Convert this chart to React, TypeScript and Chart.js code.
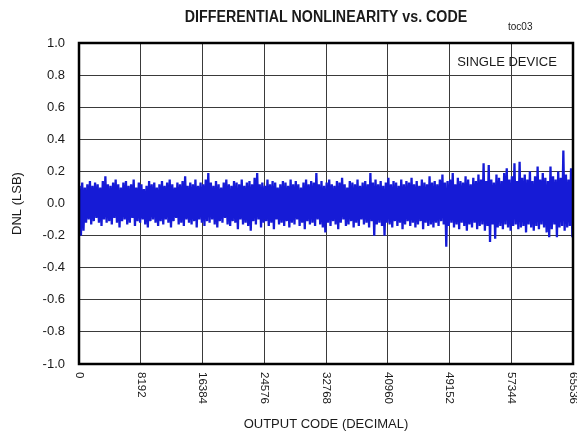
import React, { useEffect, useRef } from 'react';
import { Chart, registerables } from 'chart.js';

Chart.register(...registerables);

const TITLE = 'DIFFERENTIAL NONLINEARITY vs. CODE';
const FIG_ID = 'toc03';
const NOTE = 'SINGLE DEVICE';
const X_TITLE = 'OUTPUT CODE (DECIMAL)';
const Y_TITLE = 'DNL (LSB)';

const CODE_MAX = 65536;
const xTicks = [0, 8192, 16384, 24576, 32768, 40960, 49152, 57344, 65536];
const yTicks = [1.0, 0.8, 0.6, 0.4, 0.2, 0.0, -0.2, -0.4, -0.6, -0.8, -1.0];

// upper excursions of the DNL trace, read across the code range (left to right)
const upperPeaks = [
  0.11, 0.13, 0.10, 0.12, 0.14, 0.11, 0.13, 0.12, 0.10, 0.14, 0.17, 0.12, 0.11, 0.13, 0.15, 0.12,
  0.10, 0.13, 0.14, 0.11, 0.12, 0.15, 0.10, 0.13, 0.12, 0.09, 0.11, 0.14, 0.12, 0.13, 0.10, 0.12,
  0.14, 0.11, 0.13, 0.15, 0.12, 0.10, 0.13, 0.12, 0.14, 0.17, 0.11, 0.13, 0.12, 0.15, 0.11, 0.13,
  0.12, 0.15, 0.19, 0.13, 0.11, 0.14, 0.12, 0.10, 0.13, 0.15, 0.12, 0.11, 0.14, 0.13, 0.12, 0.15,
  0.11, 0.13, 0.14, 0.12, 0.16, 0.19, 0.12, 0.13, 0.11, 0.15, 0.12, 0.14, 0.13, 0.10, 0.12, 0.14,
  0.13, 0.11, 0.15, 0.12, 0.14, 0.12, 0.10, 0.13, 0.15, 0.12, 0.14, 0.13, 0.19, 0.12, 0.14, 0.11,
  0.13, 0.15, 0.12, 0.11, 0.14, 0.13, 0.16, 0.12, 0.10, 0.14, 0.13, 0.12, 0.15, 0.11, 0.13, 0.14,
  0.12, 0.19, 0.13, 0.15, 0.12, 0.14, 0.11, 0.13, 0.16, 0.12, 0.14, 0.13, 0.11, 0.15, 0.12, 0.14,
  0.13, 0.16, 0.12, 0.14, 0.11, 0.15, 0.13, 0.12, 0.17, 0.13, 0.14, 0.12, 0.15, 0.18, 0.13, 0.14,
  0.15, 0.19, 0.12, 0.16, 0.14, 0.13, 0.17, 0.15, 0.12, 0.16, 0.14, 0.18, 0.15, 0.25, 0.14, 0.24,
  0.15, 0.13, 0.18, 0.16, 0.14, 0.19, 0.22, 0.15, 0.17, 0.25, 0.14, 0.26, 0.16, 0.18, 0.15, 0.20,
  0.14, 0.17, 0.23, 0.15, 0.19, 0.16, 0.14, 0.23, 0.17, 0.15, 0.20, 0.16, 0.33, 0.18, 0.15, 0.22,
];

// lower excursions of the DNL trace, read across the code range (left to right)
const lowerPeaks = [
  -0.20, -0.17, -0.12, -0.10, -0.13, -0.11, -0.09, -0.12, -0.14, -0.10, -0.12, -0.11, -0.13, -0.09, -0.12, -0.15,
  -0.11, -0.10, -0.13, -0.12, -0.09, -0.14, -0.11, -0.12, -0.10, -0.13, -0.15, -0.11, -0.10, -0.12, -0.14, -0.11,
  -0.13, -0.10, -0.12, -0.15, -0.11, -0.09, -0.13, -0.12, -0.14, -0.10, -0.12, -0.13, -0.11, -0.15, -0.10, -0.12,
  -0.14, -0.11, -0.12, -0.10, -0.13, -0.15, -0.11, -0.12, -0.09, -0.13, -0.14, -0.11, -0.12, -0.16, -0.10, -0.13,
  -0.12, -0.14, -0.17, -0.11, -0.13, -0.10, -0.15, -0.12, -0.11, -0.14, -0.12, -0.16, -0.10, -0.13, -0.12, -0.14,
  -0.11, -0.15, -0.12, -0.13, -0.10, -0.14, -0.12, -0.16, -0.11, -0.13, -0.12, -0.14, -0.10, -0.13, -0.15, -0.18,
  -0.12, -0.14, -0.11, -0.13, -0.16, -0.12, -0.10, -0.14, -0.13, -0.11, -0.15, -0.12, -0.14, -0.10, -0.13, -0.12,
  -0.15, -0.11, -0.20, -0.13, -0.12, -0.14, -0.20, -0.12, -0.13, -0.15, -0.11, -0.14, -0.12, -0.16, -0.13, -0.11,
  -0.14, -0.12, -0.15, -0.13, -0.11, -0.16, -0.12, -0.14, -0.13, -0.15, -0.12, -0.14, -0.11, -0.13, -0.27, -0.14,
  -0.12, -0.15, -0.13, -0.16, -0.12, -0.14, -0.17, -0.13, -0.15, -0.12, -0.16, -0.14, -0.13, -0.17, -0.14, -0.24,
  -0.13, -0.22, -0.15, -0.14, -0.16, -0.13, -0.15, -0.17, -0.14, -0.13, -0.16, -0.15, -0.14, -0.18, -0.13, -0.15,
  -0.17, -0.14, -0.16, -0.13, -0.15, -0.18, -0.21, -0.16, -0.13, -0.21, -0.15, -0.14, -0.17, -0.15, -0.14, -0.21,
];

const BLUE = '#161bd6';
const INK = '#1a1a1a';
const FONT = "'Liberation Sans', Arial, sans-serif";

function buildPoints() {
  const step = CODE_MAX / upperPeaks.length;
  const pts: { x: number; y: number }[] = [];
  for (let i = 0; i < upperPeaks.length; i++) {
    pts.push({ x: (i + 0.25) * step, y: upperPeaks[i] });
    pts.push({ x: (i + 0.75) * step, y: lowerPeaks[i] });
  }
  return pts;
}

const framePlugin = {
  id: 'frame',
  afterDatasetsDraw(chart: any) {
    const { ctx, chartArea } = chart;
    ctx.save();
    ctx.strokeStyle = '#000';
    ctx.lineWidth = 2.5;
    ctx.strokeRect(chartArea.left, chartArea.top, chartArea.right - chartArea.left, chartArea.bottom - chartArea.top);
    ctx.restore();
  },
  afterDraw(chart: any) {
    const { ctx, chartArea, scales } = chart;
    const xs = scales.x;
    const ys = scales.y;
    ctx.save();
    ctx.fillStyle = INK;

    // y tick labels
    ctx.font = `13px ${FONT}`;
    ctx.textAlign = 'right';
    ctx.textBaseline = 'middle';
    yTicks.forEach((v) => {
      ctx.fillText(v.toFixed(1), chartArea.left - 14, ys.getPixelForValue(v));
    });

    // x tick labels (rotated, reading downward)
    ctx.font = `11.5px ${FONT}`;
    xTicks.forEach((v) => {
      ctx.save();
      ctx.translate(xs.getPixelForValue(v), chartArea.bottom + 8);
      ctx.rotate(Math.PI / 2);
      ctx.textAlign = 'left';
      ctx.textBaseline = 'middle';
      ctx.fillText(String(v), 0, 0);
      ctx.restore();
    });

    const cx = (chartArea.left + chartArea.right) / 2;
    const cy = (chartArea.top + chartArea.bottom) / 2;

    // x title
    ctx.font = `13px ${FONT}`;
    ctx.textAlign = 'center';
    ctx.textBaseline = 'middle';
    ctx.fillText(X_TITLE, cx, 424);

    // y title
    ctx.save();
    ctx.translate(17, cy);
    ctx.rotate(-Math.PI / 2);
    ctx.textAlign = 'center';
    ctx.textBaseline = 'middle';
    ctx.fillText(Y_TITLE, 0, 0);
    ctx.restore();

    // note inside plot
    ctx.font = `13px ${FONT}`;
    ctx.textAlign = 'center';
    ctx.fillText(NOTE, 507, 62);

    // main title (condensed bold)
    ctx.save();
    ctx.font = `bold 16px ${FONT}`;
    ctx.textAlign = 'center';
    ctx.translate(cx, 18);
    ctx.scale(0.89, 1);
    ctx.fillText(TITLE, 0, 0);
    ctx.restore();

    // figure id
    ctx.font = `10px ${FONT}`;
    ctx.textAlign = 'left';
    ctx.fillText(FIG_ID, 508, 27);

    ctx.restore();
  },
};

export default function App() {
  const ref = useRef<HTMLCanvasElement | null>(null);

  useEffect(() => {
    if (!ref.current) return;
    const chart = new Chart(ref.current, {
      type: 'scatter',
      data: {
        datasets: [
          {
            data: buildPoints(),
            showLine: true,
            borderColor: BLUE,
            backgroundColor: BLUE,
            borderWidth: 2.3,
            pointRadius: 0,
            tension: 0,
            fill: false,
          },
        ],
      },
      options: {
        animation: false,
        responsive: false,
        maintainAspectRatio: false,
        devicePixelRatio: 1,
        layout: { padding: { left: 79, right: 4, top: 43, bottom: 70 } },
        plugins: {
          legend: { display: false },
          tooltip: { enabled: false },
          title: { display: false },
        },
        scales: {
          x: {
            type: 'linear',
            min: 0,
            max: CODE_MAX,
            ticks: { display: false, stepSize: 8192 },
            grid: { color: '#3a3a3a', lineWidth: 1, drawTicks: false },
            border: { display: false },
          },
          y: {
            type: 'linear',
            min: -1,
            max: 1,
            ticks: { display: false, stepSize: 0.2 },
            grid: { color: '#3a3a3a', lineWidth: 1, drawTicks: false },
            border: { display: false },
          },
        },
      },
      plugins: [framePlugin],
    });
    return () => chart.destroy();
  }, []);

  return (
    <div style={{ position: 'fixed', left: 0, top: 0, width: 577, height: 434, background: '#fff' }}>
      <canvas ref={ref} width={577} height={434} style={{ width: 577, height: 434, display: 'block' }} />
    </div>
  );
}
